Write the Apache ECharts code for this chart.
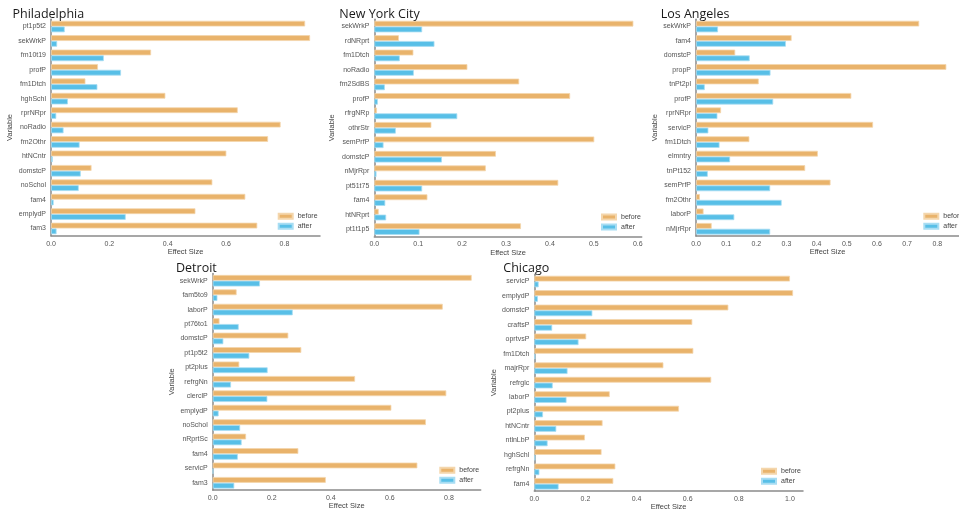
<!DOCTYPE html>
<html>
<head>
<meta charset="utf-8">
<title>Effect Size by Variable</title>
<script src="https://cdn.jsdelivr.net/npm/echarts@6/dist/echarts.min.js"></script>
<style>
  html, body { margin: 0; padding: 0; background: #ffffff; }
  #chart { width: 959px; height: 515px; }
</style>
</head>
<body>
<div id="chart"></div>
<script>
// Effect size per covariate, before and after matching, for five cities.
const phlVars   = ['pt1p5t2','sekWrkP','fm10t19','profP','fm1Dtch','hghSchl','rprNRpr','noRadio','fm2Othr','htNCntr','domstcP','noSchol','fam4','emplydP','fam3'];
const phlBefore = [0.871, 0.888, 0.343, 0.161, 0.118, 0.392, 0.640, 0.787, 0.744, 0.601, 0.139, 0.553, 0.666, 0.495, 0.707];
const phlAfter  = [0.047, 0.021, 0.181, 0.240, 0.159, 0.058, 0.018, 0.043, 0.098, 0.006, 0.102, 0.095, 0.009, 0.256, 0.019];

const nycVars   = ['sekWrkP','rdNRprt','fm1Dtch','noRadio','fm2SdBS','profP','rfrgNRp','othrStr','semPrfP','domstcP','nMjrRpr','pt51t75','fam4','htNRprt','pt1t1p5'];
const nycBefore = [0.590, 0.056, 0.089, 0.212, 0.330, 0.446, 0.006, 0.130, 0.501, 0.277, 0.254, 0.419, 0.121, 0.010, 0.334];
const nycAfter  = [0.109, 0.137, 0.058, 0.090, 0.024, 0.008, 0.189, 0.049, 0.021, 0.154, 0.005, 0.109, 0.025, 0.027, 0.103];

const laVars    = ['sekWrkP','fam4','domstcP','propP','tnPt2pl','profP','rprNRpr','servicP','fm1Dtch','elmntry','tnPt152','semPrfP','fm2Othr','laborP','nMjrRpr'];
const laBefore  = [0.740, 0.317, 0.130, 0.830, 0.208, 0.515, 0.083, 0.587, 0.177, 0.404, 0.362, 0.446, 0.013, 0.025, 0.052];
const laAfter   = [0.073, 0.298, 0.178, 0.247, 0.029, 0.256, 0.071, 0.041, 0.078, 0.113, 0.039, 0.246, 0.284, 0.127, 0.246];

const detVars   = ['sekWrkP','fam5to9','laborP','pt76to1','domstcP','pt1p5t2','pt2plus','refrgNn','clerclP','emplydP','noSchol','nRprtSc','fam4','servicP','fam3'];
const detBefore = [0.877, 0.081, 0.779, 0.023, 0.256, 0.300, 0.090, 0.482, 0.791, 0.605, 0.722, 0.113, 0.290, 0.693, 0.383];
const detAfter  = [0.160, 0.016, 0.271, 0.088, 0.036, 0.124, 0.186, 0.062, 0.185, 0.020, 0.093, 0.098, 0.085, 0.002, 0.073];

const chiVars   = ['servicP','emplydP','domstcP','craftsP','oprtvsP','fm1Dtch','majrRpr','refrglc','laborP','pt2plus','htNCntr','ntlnLbP','hghSchl','refrgNn','fam4'];
const chiBefore = [1.000, 1.012, 0.759, 0.618, 0.203, 0.622, 0.505, 0.692, 0.295, 0.566, 0.267, 0.198, 0.263, 0.317, 0.309];
const chiAfter  = [0.017, 0.014, 0.227, 0.070, 0.173, 0.004, 0.130, 0.072, 0.126, 0.034, 0.086, 0.052, 0.004, 0.020, 0.095];

const seriesNames = ['before', 'after'];
const barColors   = ['#E9B36B', '#58BFE7'];
const barEdges    = ['#F4D6AC', '#A8DDF3'];

// Panel placement (pixels) and axis range for each city.
const panels = [
  { title: 'Philadelphia',  vars: phlVars, before: phlBefore, after: phlAfter,
    left: 51,    top: 19.3,  width: 269,   height: 216.4, max: 0.922,  step: 0.2,
    titleLeft: 12.5,  titleTop: 8,   nameGap: 35,   legendLeft: 277.7, legendTop: 212.3 },
  { title: 'New York City', vars: nycVars, before: nycBefore, after: nycAfter,
    left: 374.3, top: 19.3,  width: 267.4, height: 217,   max: 0.609,  step: 0.1,
    titleLeft: 339.3, titleTop: 8,   nameGap: 36.5, legendLeft: 601,   legendTop: 213 },
  { title: 'Los Angeles',   vars: laVars,  before: laBefore,  after: laAfter,
    left: 696,   top: 19.3,  width: 272,   height: 216.7, max: 0.872,  step: 0.1,
    titleLeft: 660.7, titleTop: 8,   nameGap: 35,   legendLeft: 923.3, legendTop: 212.3 },
  { title: 'Detroit',       vars: detVars, before: detBefore, after: detAfter,
    left: 212.7, top: 273.5, width: 268,   height: 216.5, max: 0.9075, step: 0.2,
    titleLeft: 176,   titleTop: 262, nameGap: 35,   legendLeft: 439.3, legendTop: 466.3 },
  { title: 'Chicago',       vars: chiVars, before: chiBefore, after: chiAfter,
    left: 534.3, top: 274.3, width: 268.7, height: 216.7, max: 1.051,  step: 0.2,
    titleLeft: 503.3, titleTop: 262, nameGap: 33.3, legendLeft: 761,   legendTop: 467.3 }
];

const tickFont = 'Liberation Sans, Arial, sans-serif';
const axisGray = '#8a8a8a';

const option = {
  animation: false,
  backgroundColor: '#ffffff',
  title: [], grid: [], xAxis: [], yAxis: [], series: [], legend: []
};

panels.forEach((p, i) => {
  option.title.push({
    text: p.title, left: p.titleLeft, top: p.titleTop, padding: 0,
    textStyle: { fontFamily: 'Open Sans', fontSize: 12.5, fontWeight: 'normal', color: '#1a1a1a' }
  });
  option.grid.push({ left: p.left, top: p.top, width: p.width, height: p.height, containLabel: false });
  const step = p.step;
  option.xAxis.push({
    type: 'value', gridIndex: i, min: 0, max: p.max, interval: step,
    name: 'Effect Size', nameLocation: 'middle', nameGap: 8.5,
    nameTextStyle: { fontFamily: tickFont, fontSize: 7.5, color: '#444' },
    axisLine: { show: true, lineStyle: { color: axisGray, width: 1.5 } },
    axisTick: { show: false },
    splitLine: { show: false },
    axisLabel: {
      fontFamily: tickFont, fontSize: 7, color: '#555', margin: 4.5, showMaxLabel: false,
      formatter: v => (Math.abs(v / step - Math.round(v / step)) < 1e-6 ? v.toFixed(1) : '')
    }
  });
  option.yAxis.push({
    type: 'category', gridIndex: i, data: p.vars, inverse: true,
    name: 'Variable', nameLocation: 'middle', nameRotate: 90, nameGap: p.nameGap,
    nameTextStyle: { fontFamily: tickFont, fontSize: 7.5, color: '#444' },
    axisLine: { show: true, lineStyle: { color: axisGray, width: 1.5 } },
    axisTick: { show: false },
    splitLine: { show: false },
    axisLabel: { fontFamily: tickFont, fontSize: 7, color: '#555', margin: 5, interval: 0, padding: [0, 0, 3, 0] }
  });
  [p.before, p.after].forEach((vals, k) => {
    option.series.push({
      type: 'bar', name: seriesNames[k], xAxisIndex: i, yAxisIndex: i, data: vals,
      barCategoryGap: '20%', barGap: '0%',
      itemStyle: { color: barColors[k], borderColor: barEdges[k], borderWidth: 0.8 },
      emphasis: { disabled: true }
    });
  });
  option.legend.push({
    data: seriesNames.map(n => ({ name: n, icon: 'rect' })),
    orient: 'vertical', left: p.legendLeft, top: p.legendTop, padding: 0,
    itemWidth: 14, itemHeight: 5, itemGap: 2, selectedMode: false,
    textStyle: { fontFamily: tickFont, fontSize: 7, color: '#444', lineHeight: 8 }
  });
});

const chart = echarts.init(document.getElementById('chart'), null, { renderer: 'canvas' });
chart.setOption(option);
</script>
</body>
</html>
